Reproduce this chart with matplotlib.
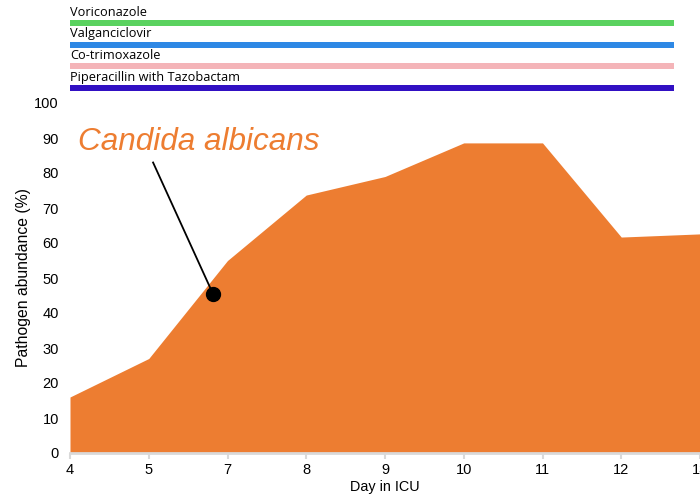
import matplotlib
matplotlib.use("Agg")
import matplotlib.pyplot as plt

days = ["4", "5", "7", "8", "9", "10", "11", "12", "13"]
abundance = [16, 27, 55, 73.7, 79, 88.6, 88.6, 61.7, 62.6]
drugs = ["Voriconazole", "Valganciclovir", "Co-trimoxazole", "Piperacillin with Tazobactam"]
drug_colors = ["#5AD25F", "#2E88E5", "#F4B4B8", "#3110C3"]
species = "Candida albicans"
marker_pos = (1.817, 45.4)

W, H = 700, 501
fig = plt.figure(figsize=(7, 5.01), dpi=100)

# main area chart
ax = fig.add_axes([70 / W, 1 - 453 / H, 630 / W, 350 / H])
x = list(range(len(days)))
ax.fill_between(x, abundance, 0, color="#ED7D31", linewidth=0)
ax.set_xlim(0, len(days) - 1)
ax.set_ylim(0, 100)
ax.set_xticks(x)
ax.set_xticklabels(days, fontfamily="Liberation Sans", fontsize=10.5)
ax.set_yticks(range(0, 101, 10))
ax.set_yticklabels([str(v) for v in range(0, 101, 10)], fontfamily="Liberation Sans", fontsize=10.5)
for s in ["top", "right", "left"]:
    ax.spines[s].set_visible(False)
ax.spines["bottom"].set_color("#D9D9D9")
ax.spines["bottom"].set_linewidth(2)
ax.spines["bottom"].set_clip_on(False)
ax.tick_params(axis="x", colors="#D9D9D9", labelcolor="black", length=4, width=1.5, pad=3)
ax.tick_params(axis="y", length=0, pad=8)
ax.set_xlabel("Day in ICU", fontfamily="Liberation Sans", fontsize=10.4, labelpad=2)
ax.set_ylabel("Pathogen abundance (%)", fontfamily="Liberation Sans", fontsize=11.3, labelpad=2)

ax.plot([1.055, marker_pos[0]], [83, marker_pos[1]], color="black", lw=1.3, clip_on=False)
ax.plot([marker_pos[0]], [marker_pos[1]], "o", color="black", markersize=10, clip_on=False)
ax.text(0.10, 88.9, species, color="#ED7D31", fontsize=22.7, style="italic",
        fontfamily="Liberation Sans", va="center", ha="left")

# top drug bars
tx = fig.add_axes([70 / W, 1 - 95 / H, 604 / W, 95 / H])
tx.set_xlim(0, 1)
tx.set_ylim(95, 0)
tx.axis("off")
for i, (d, c) in enumerate(zip(drugs, drug_colors)):
    yc = 23 + i * 21.5
    tx.barh(yc, 1, left=0, height=6, color=c)
    tx.text(0, yc - 4.0, d, fontsize=9.2, fontfamily="Open Sans", va="bottom", ha="left")

fig.savefig("out.png", dpi=100)
